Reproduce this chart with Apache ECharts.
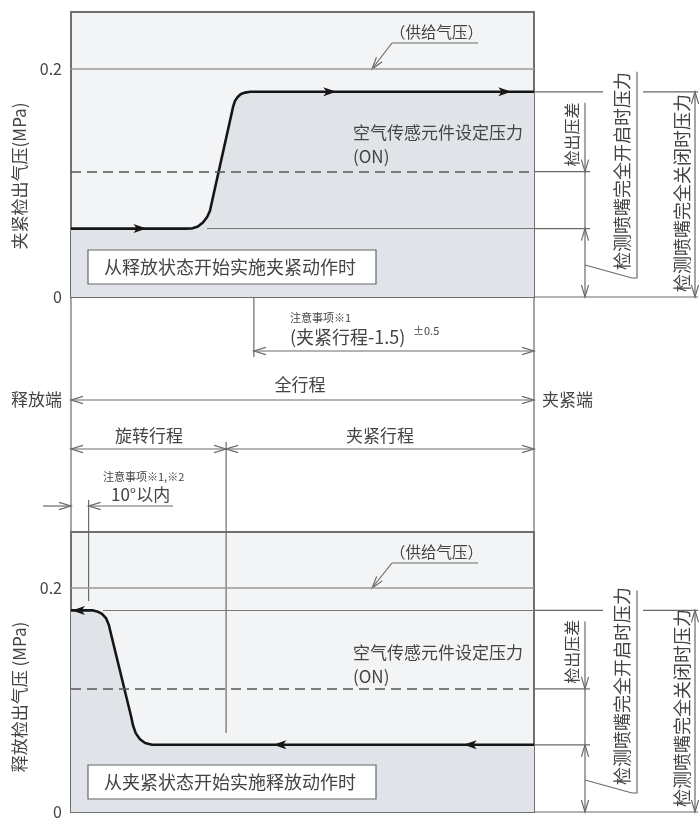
<!DOCTYPE html>
<html>
<head>
<meta charset="utf-8">
<script src="https://cdn.jsdelivr.net/npm/echarts@6/dist/echarts.min.js"></script>
<style>
  html, body { margin: 0; background: #fff; }
  #chart { width: 699px; height: 820px; }
</style>
</head>
<body>
<div id="chart"></div>
<script>
// pressure axis (MPa)
const pressureTicks = [0, 0.2];
const supplyPressure = 0.2;
const fullPressure = 0.18;
const sensorOnPressure = 0.11;
const openPressure = 0.06;

// stroke in % of full stroke (0 = release end, 100 = clamp end)
const tenDegreeStroke = 3.8;
const rotationEndStroke = 33.5;
const detectStartStroke = 39.5;

// clamp action curve
const clampStroke = [0, 24.6, 26.1, 27.4, 28.5, 29.4, 30.0, 35.0, 35.4, 36.0, 36.7, 37.6, 38.7, 100];
const clampPressure = [0.06, 0.06, 0.0601, 0.0618, 0.0654, 0.0702, 0.0754, 0.1667, 0.1719, 0.1754, 0.1781, 0.1793, 0.18, 0.18];
const clampArrowStroke = [14.9, 55.9, 93.7];
const clampArrowPressure = [0.06, 0.18, 0.18];
const clampOpenLineFrom = 29.4;

// release action curve
const releaseStroke = [0, 4.8, 5.8, 6.7, 7.6, 8.2, 8.6, 13.0, 13.4, 14.0, 14.9, 16.0, 17.5, 100];
const releasePressure = [0.18, 0.18, 0.1789, 0.1768, 0.1728, 0.1667, 0.1596, 0.0851, 0.0772, 0.0702, 0.0649, 0.0616, 0.06, 0.06];
const releaseArrowStroke = [1.6, 45.1, 86.2];
const releaseArrowPressure = [0.18, 0.06, 0.06];
const releaseFullLineFrom = 6.9;

const FONT = '"Noto Sans CJK SC", "Noto Sans", sans-serif';
const INK = '#444';
const RULE = '#6a6a6a';
const ARROW = 'path://M0,0L12,5L0,10L3,5Z';

const chart = echarts.init(document.getElementById('chart'));

const zip = (xs, ys) => xs.map((x, i) => [x, ys[i]]);

function levelLines(partial) {
  return {
    silent: true,
    symbol: 'none',
    label: { show: false },
    data: [
      [{ coord: [0, supplyPressure], lineStyle: { color: '#9a9a9a', width: 1.5, type: 'solid' } },
       { coord: [100, supplyPressure] }],
      [{ coord: [0, sensorOnPressure], lineStyle: { color: '#555', width: 1.5, type: [10, 6] } },
       { coord: [100, sensorOnPressure] }],
      [{ coord: [partial[0], partial[1]], lineStyle: { color: '#777', width: 1, type: 'solid' } },
       { coord: [100, partial[1]] }],
    ],
  };
}

function curveSeries(g, xs, ys, partial) {
  return {
    type: 'line',
    xAxisIndex: g,
    yAxisIndex: g,
    data: zip(xs, ys),
    showSymbol: false,
    smooth: false,
    lineStyle: { color: '#161616', width: 2.6, join: 'round' },
    areaStyle: { color: '#e0e4e8', opacity: 1 },
    markLine: levelLines(partial),
    z: 3,
  };
}

function arrowSeries(g, xs, ys, rotate) {
  return {
    type: 'scatter',
    xAxisIndex: g,
    yAxisIndex: g,
    data: zip(xs, ys),
    symbol: ARROW,
    symbolSize: [13, 9],
    symbolRotate: rotate,
    itemStyle: { color: '#161616', opacity: 1 },
    silent: true,
    z: 4,
  };
}

const gridBox = {
  left: 71,
  width: 463,
  height: 285,
  show: true,
  backgroundColor: '#f3f4f5',
  borderColor: '#707070',
  borderWidth: 2,
};

const yAxisBase = {
  type: 'value',
  min: 0,
  max: 0.25,
  interval: 0.2,
  axisLine: { show: false },
  axisTick: { show: false },
  splitLine: { show: false },
  axisLabel: {
    color: INK,
    fontSize: 16,
    fontFamily: FONT,
    margin: 9,
    formatter: (v) => (pressureTicks.includes(+v.toFixed(3)) ? String(+v.toFixed(3)) : ''),
  },
};

chart.setOption({
  animation: false,
  grid: [
    { ...gridBox, top: 12 },
    { ...gridBox, top: 532 },
  ],
  xAxis: [
    { type: 'value', gridIndex: 0, min: 0, max: 100, show: false },
    { type: 'value', gridIndex: 1, min: 0, max: 100, show: false },
  ],
  yAxis: [
    { ...yAxisBase, gridIndex: 0 },
    { ...yAxisBase, gridIndex: 1 },
  ],
  series: [
    curveSeries(0, clampStroke, clampPressure, [clampOpenLineFrom, openPressure]),
    arrowSeries(0, clampArrowStroke, clampArrowPressure, 0),
    curveSeries(1, releaseStroke, releasePressure, [releaseFullLineFrom, fullPressure]),
    arrowSeries(1, releaseArrowStroke, releaseArrowPressure, 180),
  ],
});

// annotation layer, placed from the grids' own scales
const X = (u) => chart.convertToPixel({ gridIndex: 0 }, [u, 0])[0];
const Y = (g, p) => chart.convertToPixel({ gridIndex: g }, [0, p])[1];

const els = [];
function seg(x1, y1, x2, y2, w = 1.2, c = RULE) {
  els.push({ type: 'line', silent: true, shape: { x1, y1, x2, y2 }, style: { stroke: c, lineWidth: w } });
}
function poly(points, w = 1.2, c = RULE) {
  els.push({ type: 'polyline', silent: true, shape: { points }, style: { stroke: c, lineWidth: w, fill: null } });
}
// open arrowhead, tip at (x, y); (bx, by) points back toward the tail
function head(x, y, bx, by) {
  const n = Math.hypot(bx, by);
  const ux = bx / n, uy = by / n, L = 12, H = 3.6;
  poly([
    [x + ux * L - uy * H, y + uy * L + ux * H],
    [x, y],
    [x + ux * L + uy * H, y + uy * L - ux * H],
  ]);
}
const DIR = { l: [1, 0], r: [-1, 0], u: [0, 1], d: [0, -1] };
const tip = (x, y, d) => head(x, y, ...DIR[d]);
function label(x, y, text, size = 17, align = 'left', rot = 0) {
  els.push({
    type: 'text', silent: true, x, y, rotation: rot, z: 10,
    style: { text, fontSize: size, fontFamily: FONT, fill: INK, align, verticalAlign: 'middle' },
  });
}
const UP = Math.PI / 2;

const x0 = X(0), x1 = X(100);
const actionText = ['从释放状态开始实施夹紧动作时', '从夹紧状态开始实施释放动作时'];

[0, 1].forEach((g) => {
  const top = Y(g, 0.25), y0 = Y(g, 0), ySup = Y(g, supplyPressure);
  const yFull = Y(g, fullPressure), ySens = Y(g, sensorOnPressure), yOpen = Y(g, openPressure);

  // supply pressure call-out
  label(390, top + 20, '（供给气压）', 15.5);
  seg(392, top + 31, 478, top + 31);
  seg(392, top + 31, 372, ySup);
  head(372, ySup, 20, top + 31 - ySup);

  label(353, top + 121, '空气传感元件设定压力', 17);
  label(353, top + 145, '(ON)', 17);

  // action caption box
  els.push({
    type: 'rect', silent: true, z: 8,
    shape: { x: 88, y: y0 - 47, width: 288, height: 34 },
    style: { fill: '#fff', stroke: '#666', lineWidth: 1.2 },
  });
  label(104, y0 - 30, actionText[g], 18);

  // right-hand pressure dimensions
  seg(x1, yFull, 603, yFull);
  seg(643, yFull, 698, yFull);
  seg(x1, ySens, 590, ySens);
  seg(x1, yOpen, 590, yOpen);
  seg(x1, y0, 698, y0);

  seg(585, yFull + 11, 585, y0);
  tip(585, ySens, 'd');
  tip(585, yOpen, 'u');
  tip(585, y0, 'd');
  label(572, ySens - 37, '检出压差', 16, 'center', UP);

  poly([[585, y0 - 32], [632, y0 - 19], [637, y0 - 19], [637, yFull - 20]]);
  label(622, y0 - 126, '检测喷嘴完全开启时压力', 18, 'center', UP);

  seg(695, yFull, 695, y0);
  tip(695, yFull, 'u');
  tip(695, y0, 'd');
  label(682, y0 - 104, '检测喷嘴完全关闭时压力', 18, 'center', UP);
});

// detection start line (clamp chart)
const xd = X(detectStartStroke);
seg(xd, Y(0, fullPressure) + 5, xd, Y(0, 0) - 56);
seg(xd, Y(0, 0) - 5, xd, 357);

// stroke dimensions between the charts
const xr = X(rotationEndStroke), xt = X(tenDegreeStroke);
seg(x0, Y(0, 0), x0, Y(1, 0.25));
seg(x1, Y(0, 0), x1, Y(1, 0.25));

label(290, 318, '注意事项※1', 11);
label(290, 337, '(夹紧行程-1.5)', 18);
label(413, 331, '±0.5', 11);
seg(xd, 351, x1, 351);
tip(xd, 351, 'l');
tip(x1, 351, 'r');

label(300, 385, '全行程', 17, 'center');
seg(x0, 400, x1, 400);
tip(x0, 400, 'l');
tip(x1, 400, 'r');
label(62, 400, '释放端', 17, 'right');
label(542, 400, '夹紧端', 17);

label(149, 436, '旋转行程', 17, 'center');
label(380, 436, '夹紧行程', 17, 'center');
seg(x0, 449, x1, 449);
tip(x0, 449, 'l');
tip(xr, 449, 'r');
tip(xr, 449, 'l');
tip(x1, 449, 'r');
seg(xr, 442, xr, Y(1, 0) - 79);

label(103, 477, '注意事项※1,※2', 11);
label(111, 495, '10°以内', 17);
seg(xt, 506, 173, 506);
tip(xt, 506, 'l');
seg(43, 506, x0, 506);
tip(x0, 506, 'r');
seg(xt, 500, xt, Y(1, supplyPressure) + 13);

// axis names
label(20, 176, '夹紧检出气压(MPa)', 17, 'center', UP);
label(20, 697, '释放检出气压 (MPa)', 17, 'center', UP);

chart.setOption({ graphic: els });
</script>
</body>
</html>
